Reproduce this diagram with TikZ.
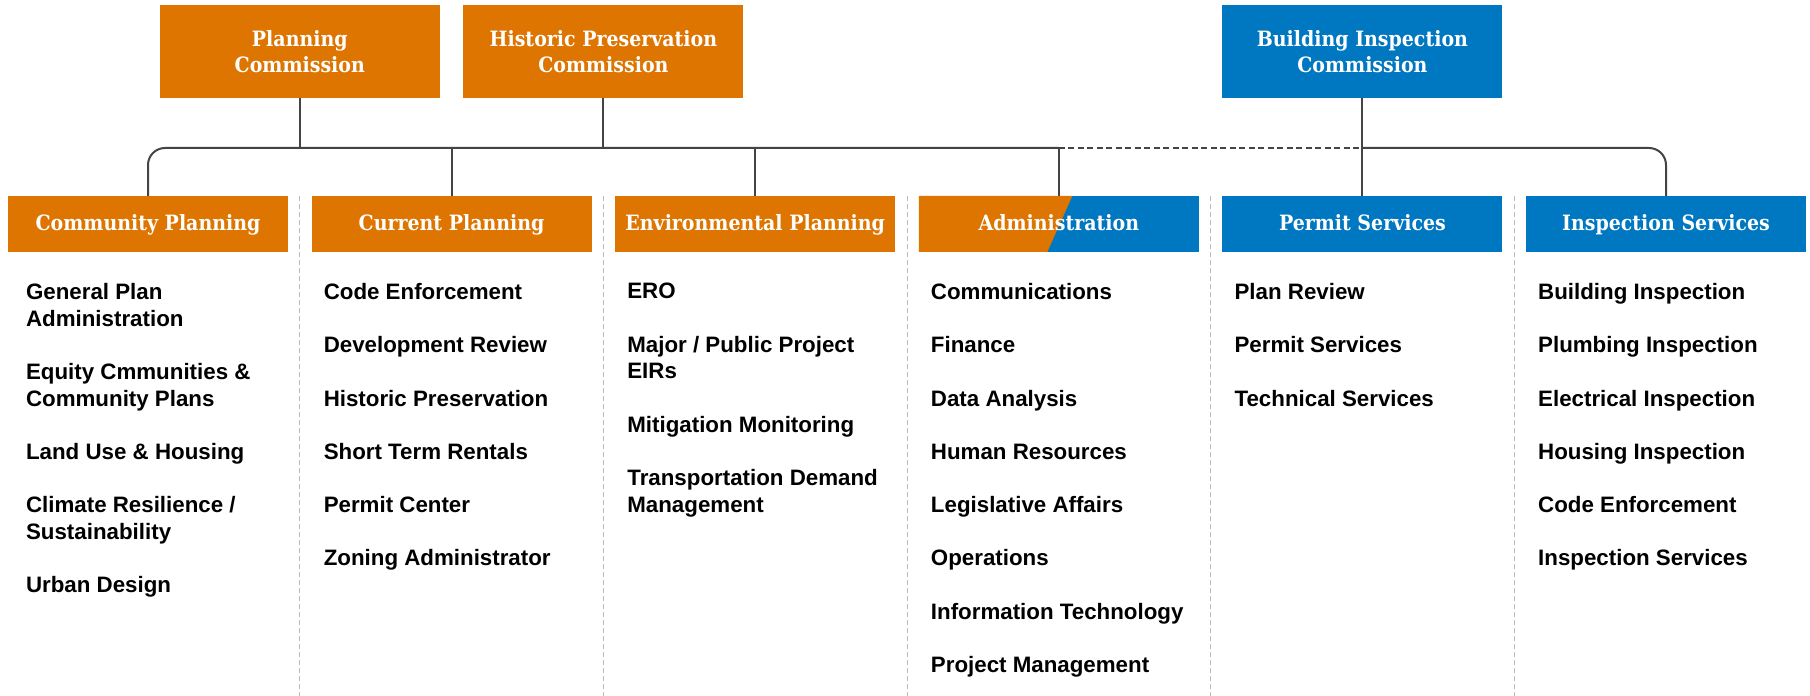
\documentclass[tikz,border=0pt]{standalone}
\usepackage{fontspec}
\setmainfont{Liberation Sans}
\newfontfamily\slab{DejaVu Serif}[FakeStretch=0.9]
\usetikzlibrary{positioning}
\usetikzlibrary{calc}
\definecolor{planorange}{HTML}{DE7500}
\definecolor{dbiblue}{HTML}{0077C1}
\definecolor{linegray}{HTML}{444444}
\definecolor{sepgray}{HTML}{BBBBBB}
\newcommand{\nextitem}{\\[15.1pt]}

\begin{document}
\begin{tikzpicture} [box/.style = {minimum width=5.6cm, inner sep=0, outer sep=0, text=white, font=\slab\bfseries\fontsize{12}{15}\selectfont},
        head/.style = {box, minimum height=1.12cm, text height=0.73em, text depth=0pt},
        comm/.style = {box, minimum height=1.86cm, align=center},
        plan/.style = {fill=planorange},
        dbi/.style = {fill=dbiblue},
        list/.style = {align=left, inner sep=0, font=\bfseries\fontsize{12.7}{15.2}\selectfont},
        line/.style = {linegray, line width=0.04cm},
        sep/.style = {sepgray, line width=0.02cm, dash pattern=on 0.1cm off 0.06cm}]

        \useasboundingbox (0,0) rectangle (36.2,-13.92);

        %Abteilungen
        \node[head, plan] (cp) at (2.96,-4.48) {Community Planning};
        \node[head, plan] (cur) [right = 0.472cm of cp] {Current Planning};
        \node[head, plan] (env) [right = 0.472cm of cur] {Environmental Planning};
        \node[head, dbi, path picture={\fill[planorange] (path picture bounding box.north west) -- ([xshift=0.27cm]path picture bounding box.north) -- ([xshift=-0.23cm]path picture bounding box.south) -- (path picture bounding box.south west) -- cycle;}] (adm) [right = 0.472cm of env] {Administration};
        \node[head, dbi] (ps) [right = 0.472cm of adm] {Permit Services};
        \node[head, dbi] (is) [right = 0.472cm of ps] {Inspection Services};

        \foreach \a/\b [count=\i] in {cp/cur, cur/env, env/adm, adm/ps, ps/is}
            \coordinate (s\i) at ($(\a.north east)!0.5!(\b.north west)$);

        %Kommissionen
        \node[comm, plan] (pc) [above = 1.96cm of s1] {Planning\\Commission};
        \node[comm, plan] (hpc) [above = 1.96cm of s2] {Historic Preservation\\Commission};
        \node[comm, dbi] (bic) [above = 1.96cm of ps] {Building Inspection\\Commission};

        %Listen
        \node[list] (cpl) [below right = 0.62cm and 0.354cm of cp.south west] {General Plan\\Administration\nextitem Equity Cmmunities \&\\Community Plans\nextitem Land Use \& Housing\nextitem Climate Resilience /\\Sustainability\nextitem Urban Design};
        \node[list] (curl) [below right = 0.62cm and 0.236cm of cur.south west] {Code Enforcement\nextitem Development Review\nextitem Historic Preservation\nextitem Short Term Rentals\nextitem Permit Center\nextitem Zoning Administrator};
        \node[list] (envl) [below right = 0.62cm and 0.236cm of env.south west] {ERO\nextitem Major / Public Project\\EIRs\nextitem Mitigation Monitoring\nextitem Transportation Demand\\Management};
        \node[list] (adml) [below right = 0.62cm and 0.236cm of adm.south west] {Communications\nextitem Finance\nextitem Data Analysis\nextitem Human Resources\nextitem Legislative Affairs\nextitem Operations\nextitem Information Technology\nextitem Project Management};
        \node[list] (psl) [below right = 0.62cm and 0.236cm of ps.south west] {Plan Review\nextitem Permit Services\nextitem Technical Services};
        \node[list] (isl) [below right = 0.62cm and 0.236cm of is.south west] {Building Inspection\nextitem Plumbing Inspection\nextitem Electrical Inspection\nextitem Housing Inspection\nextitem Code Enforcement\nextitem Inspection Services};

        %Linien
        \coordinate (busA) at ([yshift=0.96cm]adm.north);
        \coordinate (busB) at ([yshift=0.96cm]ps.north);

        \draw[line, rounded corners=0.34cm] (cp.north) |- (busA);
        \draw[line] (busA) -- (adm.north);
        \draw[line, dash pattern=on 0.12cm off 0.07cm] (busA) -- (busB);
        \draw[line, rounded corners=0.34cm] (busB) -| (is.north);
        \draw[line] (bic) -- (ps);

        \foreach \n in {pc, hpc, cur, env}
            \draw[line] (\n) -- (\n |- busA);

        \foreach \i in {1,...,5}
            \draw[sep] (s\i) -- ++(0,-10);

    \end{tikzpicture}
\end{document}
